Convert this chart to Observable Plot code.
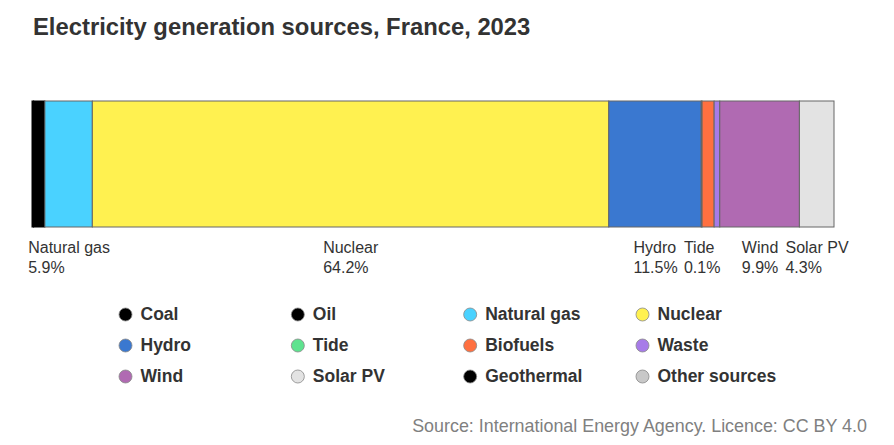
<!DOCTYPE html>
<html>
<head>
<meta charset="utf-8">
<script src="https://cdn.jsdelivr.net/npm/d3@7"></script>
<script src="https://cdn.jsdelivr.net/npm/@observablehq/plot@0.6"></script>
<style>
  html, body { margin: 0; padding: 0; background: #fff; }
  #wrap { position: relative; width: 894px; height: 445px; background: #fff; font-family: "Liberation Sans", Arial, Helvetica, sans-serif; overflow: hidden; }
  #title { position: absolute; left: 33px; top: 15px; font-size: 23.8px; line-height: 24px; font-weight: bold; color: #333; white-space: nowrap; }
  #bar { position: absolute; left: 0; top: 60px; }
  #legend { position: absolute; left: 0; top: 295px; }
  #caption { position: absolute; right: 27px; top: 418px; font-size: 17.9px; line-height: 17.9px; color: #808080; white-space: nowrap; }
</style>
</head>
<body>
<div id="wrap">
  <div id="title">Electricity generation sources, France, 2023</div>
  <div id="bar"></div>
  <div id="legend"></div>
  <div id="caption">Source: International Energy Agency. Licence: CC BY 4.0</div>
</div>
<script>
const sources = ["Coal", "Oil", "Natural gas", "Nuclear", "Hydro", "Tide", "Biofuels", "Waste", "Wind", "Solar PV", "Geothermal", "Other sources"];
const shares  = [0.2, 1.4, 5.9, 64.2, 11.5, 0.1, 1.5, 0.7, 9.9, 4.3, 0, 0];
const colors  = ["#000000", "#000000", "#4ad2ff", "#fff150", "#3a78d0", "#5ee38f", "#ff7040", "#a77be8", "#b06ab2", "#e3e3e3", "#000000", "#c8c8c8"];
const labelled = ["Natural gas", "Nuclear", "Hydro", "Tide", "Wind", "Solar PV"];

const data = sources.map((s, i) => ({source: s, value: shares[i], color: colors[i]}));
const total = d3.sum(shares);
const font = '"Liberation Sans", Arial, Helvetica, sans-serif';

const bar = Plot.plot({
  width: 894,
  height: 240,
  marginTop: 41,
  marginBottom: 73,
  marginLeft: 32,
  marginRight: 60,
  x: {domain: [0, total], axis: null},
  color: {domain: sources, range: colors},
  style: {fontFamily: font, background: "transparent"},
  marks: [
    Plot.barX(data, Plot.stackX({
      x: "value", fill: "source",
      stroke: d => d.color === "#000000" ? "#000000" : "#666666", strokeWidth: 1,
      filter: d => d.value > 0
    })),
    Plot.text(data, Plot.stackX({
      x: "value",
      filter: d => d.value > 0,
      text: d => labelled.includes(d.source) ? `${d.source}\n${d.value.toFixed(1)}%` : null,
      frameAnchor: "bottom", lineAnchor: "top", textAnchor: "start",
      dy: 11, lineHeight: 1.25, fontSize: 16, fill: "#333"
    }))
  ]
});
document.getElementById("bar").appendChild(bar);
// centre each left-aligned label block on its segment
bar.querySelectorAll('g[aria-label="text"] text').forEach(t => {
  const w = t.getBBox().width;
  const tr = t.getAttribute("transform") || "";
  t.setAttribute("transform", `${tr} translate(${-w / 2},0)`);
});

const legendData = sources.map((s, i) => ({source: s, col: i % 4, row: Math.floor(i / 4)}));
const legend = Plot.plot({
  width: 894,
  height: 100,
  margin: 0,
  x: {domain: [0, 3], range: [125, 642], axis: null},
  y: {domain: [0, 2], range: [19, 81], axis: null},
  color: {domain: sources, range: colors},
  style: {fontFamily: font, background: "transparent"},
  marks: [
    Plot.dot(legendData, {x: "col", y: "row", r: 6.5, fill: "source", stroke: "#888", strokeWidth: 0.8}),
    Plot.text(legendData, {x: "col", y: "row", text: "source", dx: 15, textAnchor: "start",
      fontWeight: "bold", fontSize: 17.5, fill: "#333"})
  ]
});
document.getElementById("legend").appendChild(legend);
</script>
</body>
</html>
